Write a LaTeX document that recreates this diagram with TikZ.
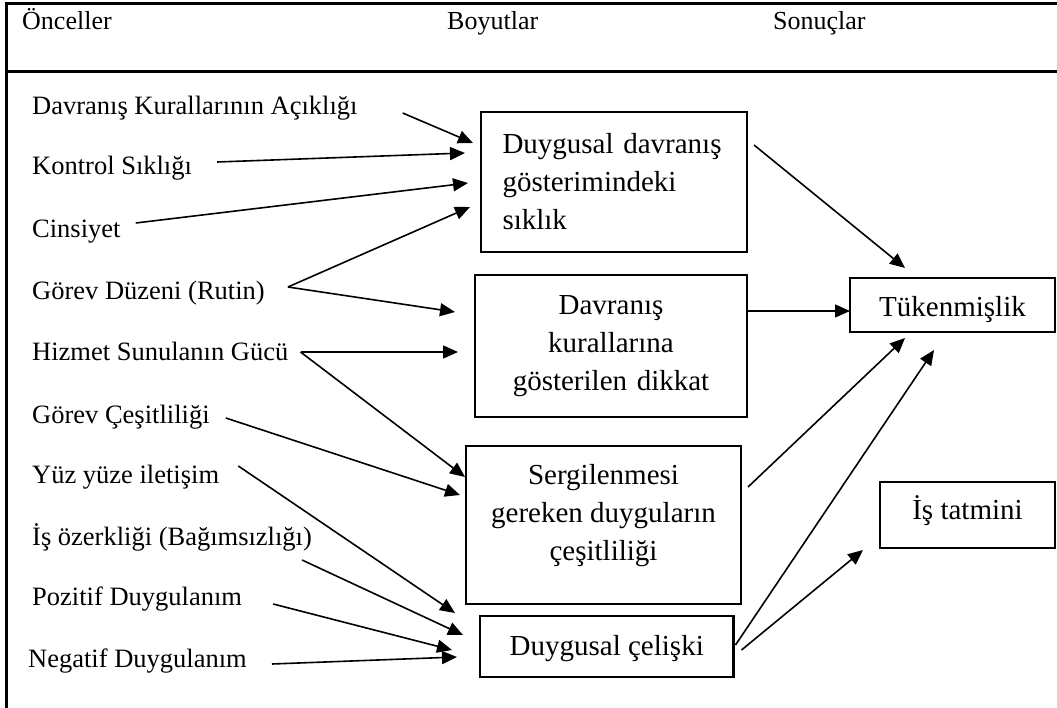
\documentclass[tikz,border=0pt]{standalone}
\usepackage{fontspec}
\setmainfont{Liberation Serif}
\usetikzlibrary{arrows.meta,calc}
\begin{document}
\begin{tikzpicture}[x=1pt,y=-1pt,
  frame/.style={line width=3pt},
  lbl/.style={anchor=base west, inner sep=0pt, font=\fontsize{26.5}{32}\selectfont},
  hdr/.style={anchor=base west, inner sep=0pt, font=\fontsize{26}{32}\selectfont},
  box/.style={draw, line width=2.6pt, anchor=north west, outer sep=0pt, inner sep=0pt, font=\fontsize{29}{38}\selectfont, align=center},
  boxtext/.style={inner sep=0pt, align=center, font=\fontsize{29}{38}\selectfont},
  arr/.style={line width=1.6pt, -{Triangle[length=15pt,width=13pt]}}
]
\useasboundingbox (0,0) rectangle (1057,708);
% frame
\draw[frame] (1057,3.5) -- (6,3.5) -- (6,708);
\draw[frame] (6,72) -- (1057,72);
% headers
\node[hdr] (h1) at (22,30) {Önceller};
\node[hdr] (h2) at (447,30) {Boyutlar};
\node[hdr] (h3) at (773,30) {Sonuçlar};
% antecedents
\node[lbl] (t1) at (32,115) {Davranış Kurallarının Açıklığı};
\node[lbl] (t2) at (32,175) {Kontrol Sıklığı};
\node[lbl] (t3) at (32,238) {Cinsiyet};
\node[lbl] (t4) at (32,300) {Görev Düzeni (Rutin)};
\node[lbl] (t5) at (32,360) {Hizmet Sunulanın Gücü};
\node[lbl] (t6) at (32,423) {Görev Çeşitliliği};
\node[lbl] (t7) at (32,483) {Yüz yüze iletişim};
\node[lbl] (t8) at (32,545) {İş özerkliği (Bağımsızlığı)};
\node[lbl] (t9) at (32,605) {Pozitif Duygulanım};
\node[lbl] (t10) at (28,667) {Negatif Duygulanım};
% dimension boxes
\node[box, minimum width=266pt, minimum height=140pt, text width=223pt, align=left] (b1) at (481,112)
  {\makebox[223pt][s]{Duygusal davranış}\\gösterimindeki\\sıklık};
\node[box, minimum width=272pt, minimum height=142pt, text width=250pt] (b2) at (475,275)
  {Davranış\\kurallarına\\gösterilen dikkat};
\node[box, minimum width=275pt, minimum height=158pt] (b3) at (466,446) {};
\node[boxtext] (b3t) at ($(b3.center)+(0,-9.5)$) {Sergilenmesi\\gereken duyguların\\çeşitliliği};
\node[box, minimum width=253.5pt, minimum height=61pt, text height=20pt, text depth=3pt] (b4) at (480,616) {Duygusal çelişki};
% outcomes
\node[box, minimum width=205pt, minimum height=54pt, text height=24pt, text depth=0pt] (tk) at (850,278) {Tükenmişlik};
\node[box, minimum width=175pt, minimum height=66pt, text height=14pt, text depth=6pt] (is) at (880,482) {İş tatmini};
% connectors, left
\coordinate (c4) at ($(t4.base east)+(23,-13)$);
\coordinate (c5) at ($(t5.base east)+(12,-8)$);
\draw[arr] ($(t1.base east)+(45,-2)$) -- ($(b1.north west)+(-8,31)$);
\draw[arr] ($(t2.base east)+(25,-13)$) -- ($(b1.north west)+(-16,41)$);
\draw[arr] ($(t3.base east)+(15,-15)$) -- ($(b1.north west)+(-13,71)$);
\draw[arr] (c4) -- ($(b1.north west)+(-11,95)$);
\draw[arr] (c4) -- ($(b2.north west)+(-20,37)$);
\draw[arr] (c5) -- ($(b2.north west)+(-17,77)$);
\draw[arr] (c5) -- ($(b3.north west)+(-1,31)$);
\draw[arr] ($(t6.base east)+(16,-5)$) -- ($(b3.north west)+(-6,49)$);
\draw[arr] ($(t7.base east)+(19,-17)$) -- ($(b4.north west)+(-25,-3)$);
\draw[arr] ($(t8.base east)+(-10,15)$) -- ($(b4.north west)+(-17,19)$);
\draw[arr] ($(t9.base east)+(31,-1)$) -- ($(b4.north west)+(-28,34)$);
\draw[arr] ($(t10.base east)+(25,-3)$) -- ($(b4.north west)+(-23,41)$);
% connectors, right
\draw[arr] ($(b1.north east)+(7,33)$) -- ($(tk.north west)+(55,-10)$);
\draw[arr] ($(b2.north east)+(0,36)$) -- ($(tk.north west)+(0,33)$);
\draw[arr] ($(b3.north east)+(7,41)$) -- ($(tk.south west)+(55,6)$);
\draw[arr] ($(b4.north east)+(2,29)$) -- ($(tk.south west)+(84,18)$);
\draw[arr] ($(b4.north east)+(8,34)$) -- ($(is.south west)+(-17,2)$);
\end{tikzpicture}
\end{document}
